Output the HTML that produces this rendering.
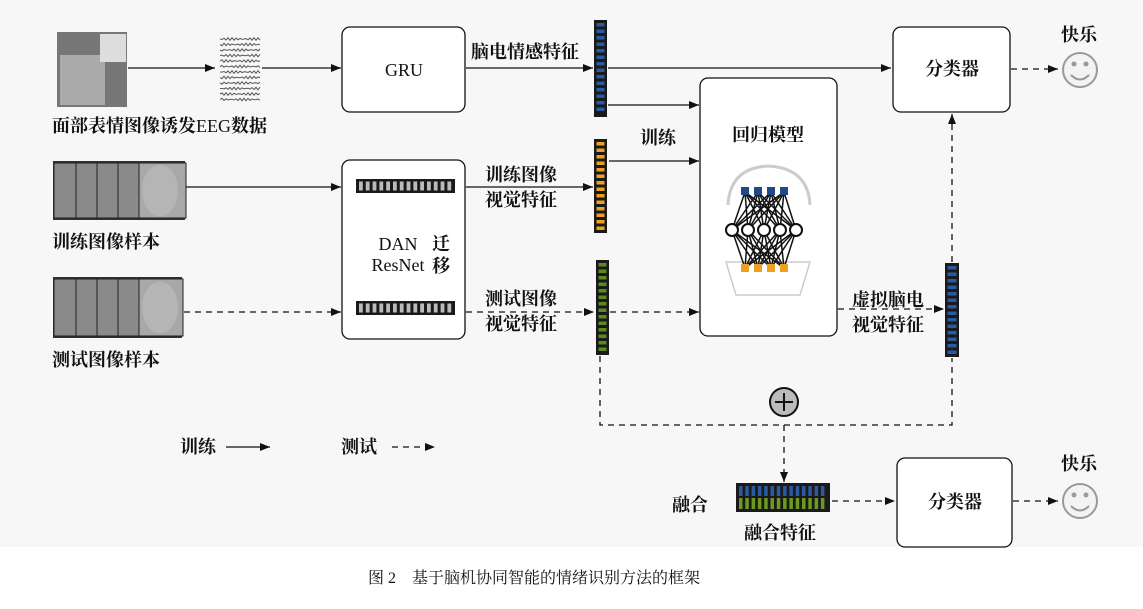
<!DOCTYPE html>
<html><head><meta charset="utf-8"><style>
html,body{margin:0;padding:0;background:#fff}
svg{display:block}
text{font-family:"Liberation Serif","Noto Serif CJK SC",serif;fill:#111}
</style></head><body>
<svg id="s" width="1143" height="609" viewBox="0 0 1143 609" xmlns="http://www.w3.org/2000/svg">
<defs>
<marker id="a" markerWidth="10" markerHeight="8" refX="10" refY="4" orient="auto" markerUnits="userSpaceOnUse"><path d="M0,0 L10,4 L0,8 Z" fill="#111"/></marker>
</defs>
<rect x="0" y="0" width="1143" height="547" fill="#f7f7f7"/>
<g stroke="#111" stroke-width="1.3" fill="none">
<line x1="128" y1="68" x2="215" y2="68" marker-end="url(#a)"/>
<line x1="262" y1="68" x2="341" y2="68" marker-end="url(#a)"/>
<line x1="466" y1="68" x2="593" y2="68" marker-end="url(#a)"/>
<line x1="608" y1="68" x2="891" y2="68" marker-end="url(#a)"/>
<line x1="608" y1="105" x2="699" y2="105" marker-end="url(#a)"/>
<line x1="609" y1="161" x2="699" y2="161" marker-end="url(#a)"/>
<line x1="185" y1="187" x2="341" y2="187" marker-end="url(#a)"/>
<line x1="466" y1="187" x2="593" y2="187" marker-end="url(#a)"/>
<line x1="423" y1="204" x2="423" y2="298" marker-end="url(#a)" marker-start="url(#a)"/>
<g stroke-dasharray="6,5">
<line x1="184" y1="312" x2="341" y2="312" marker-end="url(#a)"/>
<line x1="466" y1="312" x2="594" y2="312" marker-end="url(#a)"/>
<line x1="610" y1="312" x2="699" y2="312" marker-end="url(#a)"/>
<line x1="838" y1="309" x2="944" y2="309" marker-end="url(#a)"/>
<line x1="952" y1="262" x2="952" y2="114" marker-end="url(#a)"/>
<line x1="1011" y1="69" x2="1058" y2="69" marker-end="url(#a)"/>
<polyline points="600,356 600,425 952,425 952,358"/>
<line x1="784" y1="425" x2="784" y2="482" marker-end="url(#a)"/>
<line x1="832" y1="501" x2="895" y2="501" marker-end="url(#a)"/>
<line x1="1013" y1="501" x2="1058" y2="501" marker-end="url(#a)"/>
<line x1="392" y1="447" x2="435" y2="447" marker-end="url(#a)"/>
</g>
<line x1="226" y1="447" x2="270" y2="447" marker-end="url(#a)"/>
<rect x="342" y="27" width="123" height="85" rx="8" fill="#fff"/>
<rect x="893" y="27" width="117" height="85" rx="8" fill="#fff"/>
<rect x="700" y="78" width="137" height="258" rx="8" fill="#fff"/>
<rect x="342" y="160" width="123" height="179" rx="8" fill="#fff"/>
<rect x="897" y="458" width="115" height="89" rx="8" fill="#fff"/>
</g>
<rect x="57" y="32" width="70" height="75" fill="#777"/>
<rect x="60" y="55" width="45" height="50" fill="#aaa"/>
<rect x="100" y="34" width="26" height="28" fill="#ddd"/>
<rect x="53" y="161" width="132" height="59" fill="#333"/>
<rect x="53" y="277" width="129" height="61" fill="#333"/>
<g id="faces"></g>
<g id="eeg"></g>
<g id="bars"></g>
<g id="nn"></g>
<circle cx="784" cy="402" r="14" fill="#bbb" stroke="#111" stroke-width="2"/>
<line x1="775" y1="402" x2="793" y2="402" stroke="#111" stroke-width="2"/>
<line x1="784" y1="393" x2="784" y2="411" stroke="#111" stroke-width="2"/>
<g fill="none" stroke="#999" stroke-width="2">
<circle cx="1080" cy="70" r="17" fill="#f3f3f3"/>
<path d="M1071,75 Q1080,84 1089,75"/>
<circle cx="1080" cy="501" r="17" fill="#f3f3f3"/>
<path d="M1071,506 Q1080,515 1089,506"/>
</g>
<g fill="#999"><circle cx="1074" cy="64" r="2.5"/><circle cx="1086" cy="64" r="2.5"/><circle cx="1074" cy="495" r="2.5"/><circle cx="1086" cy="495" r="2.5"/></g>
<g font-size="18" font-weight="bold">
<text x="404" y="76" text-anchor="middle" font-weight="normal">GRU</text>
<text x="952" y="75" text-anchor="middle">分类器</text>
<text x="955" y="508" text-anchor="middle">分类器</text>
<text x="768" y="141" text-anchor="middle">回归模型</text>
<text x="471" y="58">脑电情感特征</text>
<text x="640" y="144">训练</text>
<text x="485" y="181">训练图像</text>
<text x="485" y="206">视觉特征</text>
<text x="485" y="305">测试图像</text>
<text x="485" y="330">视觉特征</text>
<text x="852" y="306">虚拟脑电</text>
<text x="852" y="331">视觉特征</text>
<text x="1061" y="41">快乐</text>
<text x="1061" y="470">快乐</text>
<text x="52" y="132">面部表情图像诱发<tspan font-weight="normal">EEG</tspan>数据</text>
<text x="52" y="248">训练图像样本</text>
<text x="52" y="366">测试图像样本</text>
<text x="398" y="250" text-anchor="middle" font-weight="normal">DAN</text>
<text x="398" y="271" text-anchor="middle" font-weight="normal">ResNet</text>
<text x="432" y="250">迁</text>
<text x="432" y="272">移</text>
<text x="180" y="453">训练</text>
<text x="341" y="453">测试</text>
<text x="672" y="511">融合</text>
<text x="744" y="539">融合特征</text>
<text x="368" y="583" font-size="16" font-weight="normal" fill="#333">图 2　基于脑机协同智能的情绪识别方法的框架</text>
</g>
</svg>
<script>
var NS="http://www.w3.org/2000/svg";
function el(p,t,a){var e=document.createElementNS(NS,t);for(var k in a)e.setAttribute(k,a[k]);p.appendChild(e);return e;}
var bars=document.getElementById('bars');
function vbar(x,y1,y2,w,c){el(bars,'rect',{x:x,y:y1,width:w,height:y2-y1,fill:'#1a1a1a'});
 for(var y=y1+3;y<y2-4;y+=6.5)el(bars,'rect',{x:x+2.5,y:y,width:w-5,height:3.5,fill:c});}
vbar(594,20,117,13,'#2a5aa0');
vbar(594,139,233,13,'#f0a020');
vbar(596,260,355,13,'#5a8a20');
vbar(945,263,357,14,'#2a5aa0');
function hbar(x1,x2,y,h,c,hh){el(bars,'rect',{x:x1,y:y,width:x2-x1,height:h,fill:'#1a1a1a'});
 for(var x=x1+3;x<x2-4;x+=6.8)el(bars,'rect',{x:x,y:y+2.5,width:3.8,height:hh,fill:c});}
hbar(356,455,179,14,'#bbb',9);
hbar(356,455,301,14,'#bbb',9);
el(bars,'rect',{x:736,y:483,width:94,height:29,fill:'#1a1a1a'});
for(var x=739;x<826;x+=6.3){el(bars,'rect',{x:x,y:486,width:3.5,height:10,fill:'#2a5aa0'});el(bars,'rect',{x:x,y:498,width:3.5,height:11,fill:'#6a9a20'});}
var f=document.getElementById('faces');
[[53,161,220],[53,277,338]].forEach(function(r,i){var xs=[53,75,96,117,138];for(var j=0;j<5;j++){var w=(j==4?(i?44:47):22);el(f,'rect',{x:xs[j]+1,y:r[1]+2,width:w,height:r[2]-r[1]-4,fill:j==4?'#a8a8a8':'#8a8a8a',stroke:'#222','stroke-width':1});}
 el(f,'ellipse',{cx:160,cy:(r[1]+r[2])/2,rx:18,ry:26,fill:'#b5b5b5'});});
var g=document.getElementById('eeg');
for(var i=0;i<12;i++){var y=39+i*5.5;var d='M220,'+y;for(var x=222;x<=260;x+=2)d+=' L'+x+','+(y+(Math.sin(x*1.7+i)*1.3));el(g,'path',{d:d,stroke:'#555','stroke-width':1,fill:'none'});}
var nn=document.getElementById('nn');
el(nn,'path',{d:'M728,205 Q730,168 768,166 Q808,168 810,205',fill:'none',stroke:'#ccc','stroke-width':3});
el(nn,'path',{d:'M726,262 L810,262 L800,295 L736,295 Z',fill:'none',stroke:'#ccc','stroke-width':1.5});
var topN=[745,758,771,784],midN=[732,748,764,780,796],botN=[745,758,771,784];
topN.forEach(function(a){midN.forEach(function(b){el(nn,'line',{x1:a,y1:192,x2:b,y2:230,stroke:'#111','stroke-width':1.5});});});
botN.forEach(function(a){midN.forEach(function(b){el(nn,'line',{x1:a,y1:268,x2:b,y2:230,stroke:'#111','stroke-width':1.5});});});
topN.forEach(function(a){el(nn,'rect',{x:a-4,y:187,width:8,height:8,fill:'#1e4a8a'});});
botN.forEach(function(a){el(nn,'rect',{x:a-4,y:264,width:8,height:8,fill:'#f0a020'});});
midN.forEach(function(b){el(nn,'circle',{cx:b,cy:230,r:6,fill:'#fff',stroke:'#111','stroke-width':2});});
</script>
</body></html>
